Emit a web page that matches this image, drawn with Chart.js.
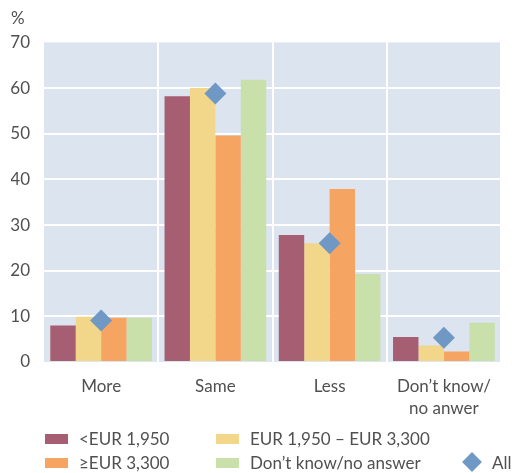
<!DOCTYPE html>
<html>
<head>
<meta charset="utf-8">
<script src="https://cdn.jsdelivr.net/npm/chart.js@4/dist/chart.umd.min.js"></script>
<style>
    body { margin: 0; background: #fff; font-family: "Lato", sans-serif; color: #505050; }
    #wrap { position: relative; width: 512px; height: 473px; }
    #legend { position: absolute; left: 0; top: 0; width: 512px; height: 473px; pointer-events: none; }
    .item { position: absolute; font-size: 17px; line-height: 20px; white-space: nowrap; }
    .box { position: absolute; width: 23px; height: 10px; }
    .diamond { position: absolute; width: 14px; height: 14px; transform: rotate(45deg); }
</style>
</head>
<body>
<div id="wrap">
    <canvas id="chart" width="512" height="473"></canvas>
    <div id="legend"></div>
</div>
<script>
const categories = ["More", "Same", "Less", ["Don\u2019t know/", "no anwer"]];
const seriesNames = ["<EUR 1,950", "EUR 1,950 \u2013 EUR 3,300", "\u2265EUR 3,300", "Don\u2019t know/no answer"];
const lowIncome = [8, 58.2, 27.8, 5.5];
const midIncome = [9.9, 60, 26, 3.6];
const highIncome = [9.7, 49.6, 37.9, 2.3];
const unknownIncome = [9.7, 61.8, 19.3, 8.6];
const allName = "All";
const allRespondents = [9.1, 58.8, 26, 5.3];
const yTicks = [0, 10, 20, 30, 40, 50, 60, 70];

const colors = ["#a65e72", "#f2d68a", "#f6a462", "#c9e0ab"];
const allColor = "#7098c4";
const textColor = "#505050";
const fontFamily = "Lato, sans-serif";

const barSeries = [lowIncome, midIncome, highIncome, unknownIncome];

const datasets = barSeries.map((values, i) => ({
    type: "bar",
    label: seriesNames[i],
    data: values,
    backgroundColor: colors[i],
    borderWidth: 0,
    categoryPercentage: 0.89,
    barPercentage: 1.0
}));

datasets.push({
    type: "line",
    label: allName,
    data: allRespondents,
    showLine: false,
    pointStyle: "rectRot",
    pointRadius: 11,
    pointHoverRadius: 11,
    pointBackgroundColor: allColor,
    pointBorderWidth: 0,
    order: -1
});

// plot area background
const plotBackground = {
    id: "plotBackground",
    beforeDraw(chart) {
        const { ctx, chartArea } = chart;
        ctx.save();
        ctx.fillStyle = "#dbe4ef";
        ctx.fillRect(chartArea.left, chartArea.top, chartArea.right - chartArea.left, chartArea.bottom - chartArea.top);
        ctx.restore();
    }
};

new Chart(document.getElementById("chart").getContext("2d"), {
    type: "bar",
    data: { labels: categories, datasets: datasets },
    plugins: [plotBackground],
    options: {
        responsive: false,
        animation: false,
        layout: { padding: { left: 11, right: 8, top: 0, bottom: 51 } },
        plugins: {
            legend: { display: false },
            tooltip: { enabled: false },
            title: {
                display: true,
                text: "%",
                align: "start",
                color: textColor,
                font: { family: fontFamily, size: 17, weight: "normal" },
                padding: { top: 8, bottom: 14 }
            }
        },
        scales: {
            x: {
                grid: {
                    offset: true,
                    drawTicks: false,
                    lineWidth: 2,
                    color: ctx => (ctx.index === 0 || ctx.index === categories.length) ? "rgba(0,0,0,0)" : "#ffffff"
                },
                border: { display: false },
                ticks: {
                    color: textColor,
                    padding: 13,
                    font: { family: fontFamily, size: 17, lineHeight: 1.3 }
                },
                afterFit: scale => { scale.height = 60; }
            },
            y: {
                min: 0,
                max: 70,
                afterBuildTicks: scale => { scale.ticks = yTicks.map(v => ({ value: v })); },
                grid: {
                    drawTicks: false,
                    lineWidth: 2,
                    color: ctx => (ctx.tick && (ctx.tick.value === 0 || ctx.tick.value === 70)) ? "rgba(0,0,0,0)" : "#ffffff"
                },
                border: { display: false },
                ticks: {
                    color: textColor,
                    padding: 14,
                    font: { family: fontFamily, size: 17 }
                },
                afterFit: scale => { scale.width = 33; }
            }
        }
    }
});

// legend in two rows like the reference
const legendItems = [
    { name: seriesNames[0], color: colors[0], x: 45, y: 429 },
    { name: seriesNames[1], color: colors[1], x: 216, y: 429 },
    { name: seriesNames[2], color: colors[2], x: 45, y: 453 },
    { name: seriesNames[3], color: colors[3], x: 216, y: 453 },
    { name: allName, color: allColor, x: 462, y: 453, diamond: true }
];
const legend = document.getElementById("legend");
legendItems.forEach(item => {
    const mark = document.createElement("div");
    if (item.diamond) {
        mark.className = "diamond";
        mark.style.left = (item.x + 3) + "px";
        mark.style.top = (item.y + 2) + "px";
    } else {
        mark.className = "box";
        mark.style.left = item.x + "px";
        mark.style.top = (item.y + 5) + "px";
    }
    mark.style.background = item.color;
    legend.appendChild(mark);

    const label = document.createElement("div");
    label.className = "item";
    label.textContent = item.name;
    label.style.left = (item.x + (item.diamond ? 30 : 34)) + "px";
    label.style.top = item.y + "px";
    legend.appendChild(label);
});
</script>
</body>
</html>
